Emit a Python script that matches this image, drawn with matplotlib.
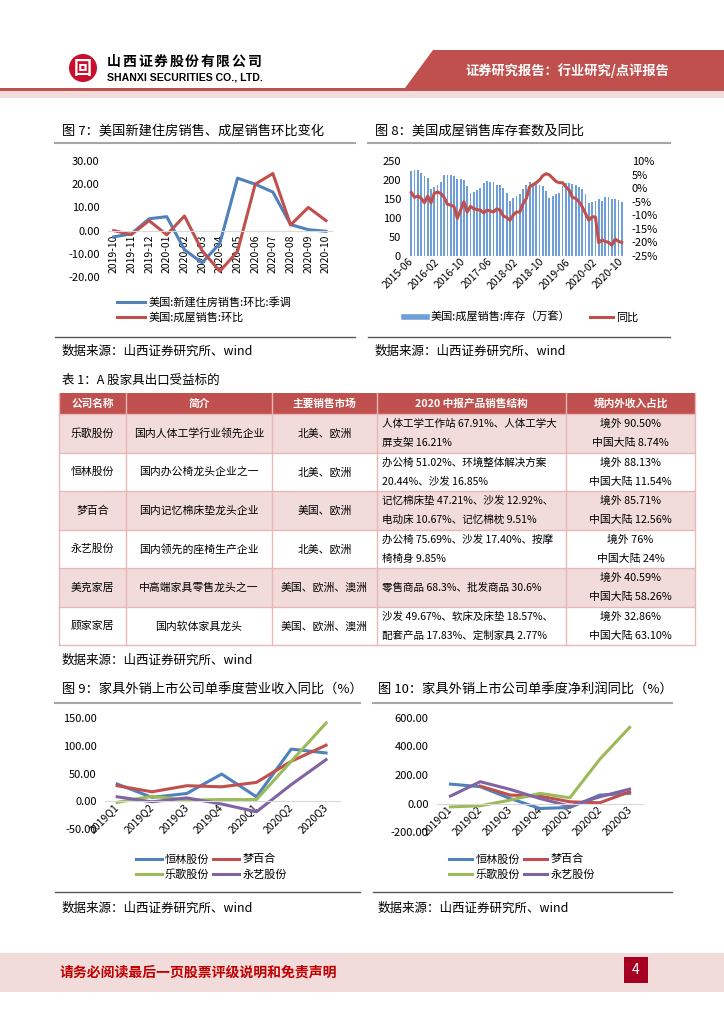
import numpy as np
import matplotlib
matplotlib.use('Agg')
import matplotlib.pyplot as plt
from matplotlib.patches import Rectangle, Polygon, Circle
from matplotlib.lines import Line2D
from matplotlib.ticker import FormatStrFormatter

plt.rcParams['font.family'] = ['Noto Sans CJK SC', 'DejaVu Sans']
plt.rcParams['axes.unicode_minus'] = False

# ---- data ----
months7 = ['2019-10', '2019-11', '2019-12', '2020-01', '2020-02', '2020-03', '2020-04',
           '2020-05', '2020-06', '2020-07', '2020-08', '2020-09', '2020-10']
new_home_mom = [-2.7, -1.4, 5.1, 6.0, -8.2, -13.9, -5.5, 22.6, 20.0, 16.6, 2.6, 0.4, -0.3]
existing_mom = [0.0, -1.7, 4.3, -1.8, 6.3, -8.7, -17.5, -9.0, 20.0, 24.6, 2.4, 10.0, 4.3]

# monthly, 2015-06 .. 2020-10 (65 months)
inventory = [225, 226, 227, 219, 211, 204, 176,
             182, 187, 196, 212, 214, 212, 211, 202, 203, 200, 185, 165,
             169, 173, 180, 191, 197, 195, 194, 187, 186, 180, 167, 146,
             152, 158, 163, 176, 187, 194, 193, 192, 188, 184, 171, 153,
             158, 162, 166, 184, 191, 193, 190, 186, 182, 177, 164, 140,
             141, 146, 149, 145, 154, 154, 151, 150, 147, 142]
inventory_yoy = [-1.6, -3.4, -2.9, -3.7, -5.4, -2.9, -5.4,
                 -1.9, -1.4, -2.0, -3.4, -6.0, -6.2, -6.8, -11.1, -8.1, -5.0, -8.8, -6.7,
                 -7.6, -7.9, -8.1, -9.1, -8.1, -8.4, -8.8, -7.6, -8.1, -10.3, -10.8, -11.8,
                 -9.9, -8.8, -8.8, -5.7, -3.8, 0.5, 1.2, 2.0, 3.0, 4.6, 5.3, 4.9,
                 3.7, 2.5, 2.0, 2.0, 0.5, -0.7, -3.4, -3.8, -5.0, -6.9, -9.4, -11.8,
                 -10.6, -10.6, -20.1, -19.1, -19.6, -20.0, -21.0, -18.8, -19.6, -20.0]
inv_ticklabels = ['2015-06', '2016-02', '2016-10', '2017-06', '2018-02',
                  '2018-10', '2019-06', '2020-02', '2020-10']

quarters = ['2019Q1', '2019Q2', '2019Q3', '2019Q4', '2020Q1', '2020Q2', '2020Q3']
rev_henglin = [31, 7, 14, 49, 8, 94, 87]
rev_mengbaihe = [28, 17, 28, 26, 34, 72, 101]
rev_loctek = [-2, 9, 2, 3, 3, 72, 141]
rev_yongyi = [8, -1, 6, -5, -19, 30, 75]

np_henglin = [136, 118, 35, -35, -28, 59, 71]
np_mengbaihe = [np.nan, 122, 59, 52, 12, 5, 82]
np_loctek = [-24, -16, 24, 71, 40, 310, 534]
np_yongyi = [52, 153, 99, 35, -19, 47, 101]

tbl_header = ['公司名称', '简介', '主要销售市场', '2020 中报产品销售结构', '境内外收入占比']
companies = ['乐歌股份', '恒林股份', '梦百合', '永艺股份', '美克家居', '顾家家居']
intros = ['国内人体工学行业领先企业', '国内办公椅龙头企业之一', '国内记忆棉床垫龙头企业',
          '国内领先的座椅生产企业', '中高端家具零售龙头之一', '国内软体家具龙头']
markets = ['北美、欧洲', '北美、欧洲', '美国、欧洲', '北美、欧洲', '美国、欧洲、澳洲', '美国、欧洲、澳洲']
structures = [['人体工学工作站 67.91%、人体工学大', '屏支架 16.21%'],
              ['办公椅 51.02%、环境整体解决方案', '20.44%、沙发 16.85%'],
              ['记忆棉床垫 47.21%、沙发 12.92%、', '电动床 10.67%、记忆棉枕 9.51%'],
              ['办公椅 75.69%、沙发 17.40%、按摩', '椅椅身 9.85%'],
              ['零售商品 68.3%、批发商品 30.6%'],
              ['沙发 49.67%、软床及床垫 18.57%、', '配套产品 17.83%、定制家具 2.77%']]
revenue_split = [['境外 90.50%', '中国大陆 8.74%'], ['境外 88.13%', '中国大陆 11.54%'],
                 ['境外 85.71%', '中国大陆 12.56%'], ['境外 76%', '中国大陆 24%'],
                 ['境外 40.59%', '中国大陆 58.26%'], ['境外 32.86%', '中国大陆 63.10%']]

RED = '#C0504D'
BLUE = '#4F81BD'
GREEN = '#9BBB59'
PURPLE = '#8064A2'
BAR = '#6E9FD9'

W, H = 724, 1024
fig = plt.figure(figsize=(W / 100, H / 100), dpi=100)


def box(l, t, r, b):
    return [l / W, 1 - b / H, (r - l) / W, (b - t) / H]


def fig_xy(x, y):
    return (x / W, 1 - y / H)


page = fig.add_axes([0, 0, 1, 1])
page.set_xlim(0, W)
page.set_ylim(H, 0)
page.axis('off')

# ---- header ----
page.add_patch(Rectangle((0, 88), W, 3, color=RED, lw=0))
page.add_patch(Rectangle((0, 91), W, 7, color='#F2DCDB', lw=0))
page.add_patch(Polygon([(433, 50), (W, 50), (W, 88), (405, 88)], closed=True, color=RED, lw=0))
page.text(567, 71, '证券研究报告：行业研究/点评报告', color='white', fontsize=9.5,
          fontweight='bold', ha='center', va='center')
page.add_patch(Circle((83, 68), 14, color='#C8102E', lw=0))
page.text(83, 68, '回', color='white', fontsize=13, fontweight='bold', ha='center', va='center')
for i, ch in enumerate('山西证券股份有限公司'):
    page.text(114 + i * 15.6, 62, ch, fontsize=10, fontweight='bold', ha='center', va='center')
page.text(107, 78, 'SHANXI SECURITIES CO., LTD.', fontsize=7.6, fontweight='bold',
          family='Liberation Sans', va='center')

# ---- section titles / rules ----
def section(x_text, x0, x1, y_title, y_top, y_bot, y_src, title):
    page.text(x_text, y_title, title, fontsize=9.5, va='center')
    page.plot([x0, x1], [y_top, y_top], color='#A6A6A6', lw=1.5)
    page.plot([x0, x1], [y_bot, y_bot], color='#595959', lw=1.0)
    page.text(x_text, y_src, '数据来源：山西证券研究所、wind', fontsize=9, va='center')


section(62, 55, 355, 131, 143, 337, 351, '图 7：美国新建住房销售、成屋销售环比变化')
section(375, 368, 670, 131, 143, 337, 351, '图 8：美国成屋销售库存套数及同比')
section(62, 55, 360, 690, 703, 892, 908, '图 9：家具外销上市公司单季度营业收入同比（%）')
section(378, 373, 672, 690, 703, 892, 908, '图 10：家具外销上市公司单季度净利润同比（%）')

# ---- table ----
page.text(62, 380, '表 1：A 股家具出口受益标的', fontsize=9, va='center')
col_edges = [59, 126, 272, 377, 566, 695]
row_edges = [393, 414, 453, 491, 530, 568, 607, 645]
grid_c = '#E6B8B7'
page.add_patch(Rectangle((col_edges[0], row_edges[0]), col_edges[-1] - col_edges[0],
                         row_edges[1] - row_edges[0], color=RED, lw=0))
for r in range(len(companies)):
    fc = '#F2DCDB' if r % 2 == 0 else 'white'
    page.add_patch(Rectangle((col_edges[0], row_edges[r + 1]), col_edges[-1] - col_edges[0],
                             row_edges[r + 2] - row_edges[r + 1], color=fc, lw=0))
for y in row_edges[1:]:
    page.plot([col_edges[0], col_edges[-1]], [y, y], color=grid_c, lw=1)
for x in col_edges:
    page.plot([x, x], [row_edges[0], row_edges[-1]], color=grid_c, lw=1)

cx = [(col_edges[i] + col_edges[i + 1]) / 2 for i in range(5)]
for i, h in enumerate(tbl_header):
    page.text(cx[i], (row_edges[0] + row_edges[1]) / 2, h, color='white', fontsize=7.7,
              fontweight='bold', ha='center', va='center')
for r in range(len(companies)):
    yc = (row_edges[r + 1] + row_edges[r + 2]) / 2
    page.text(cx[0], yc, companies[r], fontsize=7.8, ha='center', va='center')
    page.text(cx[1], yc, intros[r], fontsize=7.8, ha='center', va='center')
    page.text(cx[2], yc, markets[r], fontsize=7.8, ha='center', va='center')
    lines = structures[r]
    offs = [0] if len(lines) == 1 else [-9.5, 9.5]
    for ln, o in zip(lines, offs):
        page.text(col_edges[3] + 5, yc + o, ln, fontsize=7.6, ha='left', va='center')
    for ln, o in zip(revenue_split[r], [-9.5, 9.5]):
        page.text(cx[4], yc + o, ln, fontsize=7.8, ha='center', va='center')
page.text(62, 660, '数据来源：山西证券研究所、wind', fontsize=9, va='center')

# ---- footer ----
page.add_patch(Rectangle((0, 953), W, 39, color='#F2DCDB', lw=0))
page.text(60, 972, '请务必阅读最后一页股票评级说明和免责声明', color='#C00000', fontsize=10,
          fontweight='bold', va='center')
page.add_patch(Rectangle((624, 957), 24, 26, color='#A50021', lw=0))
page.text(636, 970, '4', color='white', fontsize=10, ha='center', va='center')


def style_line_axes(ax, fmt):
    # spine move resets ticks, so do it before the tick labels are set
    for s in ['top', 'right', 'left']:
        ax.spines[s].set_visible(False)
    ax.spines['bottom'].set_position(('data', 0))
    ax.spines['bottom'].set_color('#D9D9D9')
    ax.yaxis.set_major_formatter(FormatStrFormatter(fmt))
    ax.tick_params(axis='y', length=0, labelsize=8, pad=6)
    ax.tick_params(axis='x', length=0, labelsize=7.5, pad=3)
    ax.patch.set_alpha(0)


# ---- figure 7 ----
ax7 = fig.add_axes(box(108, 161, 332, 277))
style_line_axes(ax7, '%.2f')
x7 = np.arange(len(months7))
ax7.plot(x7, new_home_mom, color=BLUE, lw=2.2, label='美国:新建住房销售:环比:季调')
ax7.plot(x7, existing_mom, color=RED, lw=2.2, label='美国:成屋销售:环比')
ax7.set_ylim(-20, 30)
ax7.set_yticks(np.arange(-20, 31, 10))
ax7.set_xlim(-0.32, 12.34)
ax7.set_xticks(x7)
ax7.set_xticklabels(months7, rotation=90, va='top', ha='center')
ax7.legend(loc='upper left', bbox_to_anchor=fig_xy(117, 297), bbox_transform=fig.transFigure,
           frameon=False, fontsize=8, handlelength=2.5, handletextpad=0.3,
           labelspacing=0.4, borderpad=0, borderaxespad=0)

# ---- figure 8 ----
ax8 = fig.add_axes(box(408, 161, 625, 256))
x8 = np.arange(len(inventory))
ax8.bar(x8, inventory, width=0.55, color=BAR, lw=0)
ax8.set_ylim(0, 250)
ax8.set_yticks(np.arange(0, 251, 50))
ax8.set_xlim(-1, 65)
ax8.set_xticks(np.arange(0, 65, 8))
ax8.set_xticklabels(inv_ticklabels, rotation=45, ha='right', va='center', rotation_mode='anchor')
ax8.tick_params(axis='y', length=0, labelsize=8, pad=5)
ax8.tick_params(axis='x', length=0, labelsize=7.5, pad=3)
for s in ax8.spines.values():
    s.set_visible(False)
ax8r = ax8.twinx()
ax8r.plot(x8, inventory_yoy, color=RED, lw=2.2)
ax8r.set_ylim(-25, 10)
ax8r.set_yticks(np.arange(-25, 11, 5))
ax8r.yaxis.set_major_formatter(FormatStrFormatter('%d%%'))
ax8r.tick_params(axis='y', length=0, labelsize=8, pad=5)
for s in ax8r.spines.values():
    s.set_visible(False)
h8 = [Line2D([], [], color=BAR, lw=4), Line2D([], [], color=RED, lw=2.2)]
ax8r.legend(h8, ['美国:成屋销售:库存（万套）', '同比'], ncol=2, loc='upper left',
            bbox_to_anchor=fig_xy(404, 312), bbox_transform=fig.transFigure, frameon=False,
            fontsize=8, handlelength=2.1, handletextpad=0.25, columnspacing=1.8,
            borderpad=0, borderaxespad=0)

# ---- figure 9 ----
xq = np.arange(len(quarters))
ax9 = fig.add_axes(box(105, 718, 340, 829))
style_line_axes(ax9, '%.2f')
l_hl, = ax9.plot(xq, rev_henglin, color=BLUE, lw=2.2)
l_mb, = ax9.plot(xq, rev_mengbaihe, color=RED, lw=2.2)
l_lg, = ax9.plot(xq, rev_loctek, color=GREEN, lw=2.2)
l_yy, = ax9.plot(xq, rev_yongyi, color=PURPLE, lw=2.2)
ax9.set_ylim(-50, 150)
ax9.set_yticks(np.arange(-50, 151, 50))
ax9.set_xlim(-0.35, 6.4)
ax9.set_xticks(xq)
ax9.set_xticklabels(quarters, rotation=45, ha='right', va='center', rotation_mode='anchor')
ax9.legend([l_hl, l_lg, l_mb, l_yy], ['恒林股份', '乐歌股份', '梦百合', '永艺股份'], ncol=2,
           loc='upper left', bbox_to_anchor=fig_xy(136, 854), bbox_transform=fig.transFigure,
           frameon=False, fontsize=8, handlelength=2.3, handletextpad=0.3, columnspacing=0.35,
           labelspacing=0.45, borderpad=0, borderaxespad=0)

# ---- figure 10 ----
ax10 = fig.add_axes(box(437, 718, 643, 832))
style_line_axes(ax10, '%.2f')
m_hl, = ax10.plot(xq, np_henglin, color=BLUE, lw=2.2)
m_mb, = ax10.plot(xq, np_mengbaihe, color=RED, lw=2.2)
m_lg, = ax10.plot(xq, np_loctek, color=GREEN, lw=2.2)
m_yy, = ax10.plot(xq, np_yongyi, color=PURPLE, lw=2.2)
ax10.set_ylim(-200, 600)
ax10.set_yticks(np.arange(-200, 601, 200))
ax10.set_xlim(-0.45, 6.45)
ax10.set_xticks(xq)
ax10.set_xticklabels(quarters, rotation=45, ha='right', va='center', rotation_mode='anchor')
ax10.legend([m_hl, m_lg, m_mb, m_yy], ['恒林股份', '乐歌股份', '梦百合', '永艺股份'], ncol=2,
            loc='upper left', bbox_to_anchor=fig_xy(449, 854), bbox_transform=fig.transFigure,
            frameon=False, fontsize=8, handlelength=2.1, handletextpad=0.3, columnspacing=0.35,
            labelspacing=0.45, borderpad=0, borderaxespad=0)

fig.savefig('out.png', dpi=100)
